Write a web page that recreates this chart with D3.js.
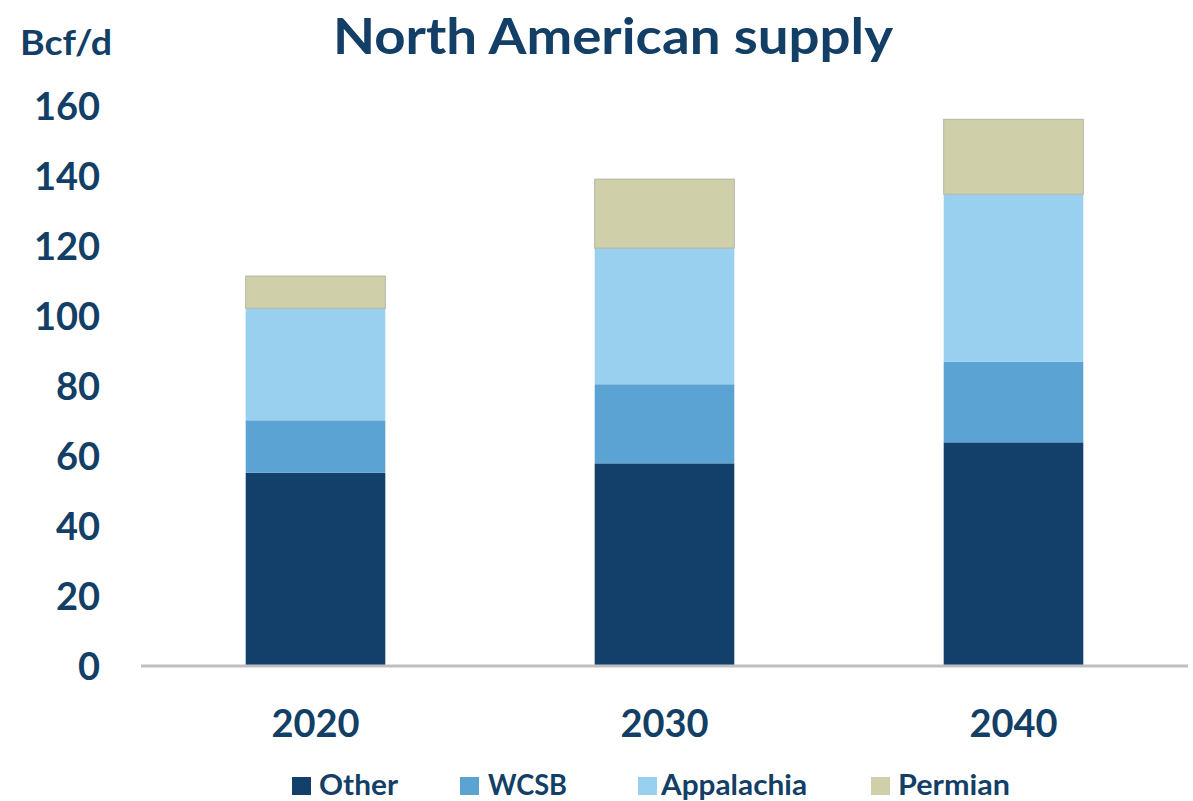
<!DOCTYPE html>
<html>
<head>
<meta charset="utf-8">
<script src="https://cdn.jsdelivr.net/npm/d3@7"></script>
<style>
  html, body { margin: 0; padding: 0; background: #ffffff; }
  svg { display: block; font-family: Lato, "Open Sans", sans-serif; font-weight: 700; }
</style>
</head>
<body>
<svg id="chart" width="1193" height="801"></svg>
<script>
// Supply by region, Bcf/d
const years = ["2020", "2030", "2040"];
const seriesNames = ["Other", "WCSB", "Appalachia", "Permian"];
const other = [55.2, 57.9, 63.9];
const wcsb = [15.0, 22.6, 23.0];
const appalachia = [32.0, 38.9, 47.9];
const permian = [9.2, 19.7, 21.4];
const yTicks = [0, 20, 40, 60, 80, 100, 120, 140, 160];
const colors = ["#12406a", "#5ba3d3", "#99d0f0", "#cfd0aa"];
const textColor = "#133f66";

const rows = years.map((y, i) => ({
  year: y, Other: other[i], WCSB: wcsb[i], Appalachia: appalachia[i], Permian: permian[i]
}));

const svg = d3.select("#chart");

const x = d3.scaleBand().domain(years).range([141, 1188]).paddingInner(0.6).paddingOuter(0.3);
const y = d3.scaleLinear().domain([0, 160]).range([666, 106]);
const color = d3.scaleOrdinal().domain(seriesNames).range(colors);

const stacked = d3.stack().keys(seriesNames)(rows);

// stacked bars
svg.append("g").selectAll("g")
  .data(stacked)
  .join("g")
  .attr("fill", d => color(d.key))
  .selectAll("rect")
  .data(d => d.map(p => ({ key: d.key, p })))
  .join("rect")
  .attr("x", d => x(d.p.data.year))
  .attr("width", x.bandwidth())
  .attr("y", d => y(d.p[1]))
  .attr("height", d => y(d.p[0]) - y(d.p[1]))
  .attr("stroke", d => d.key === "Permian" ? "#b4b4a6" : "none")
  .attr("stroke-width", 1);

// y axis labels
const yAxis = d3.axisLeft(y).tickValues(yTicks).tickSize(0).tickPadding(0);
const gy = svg.append("g").attr("transform", "translate(100,0)").call(yAxis);
gy.select(".domain").remove();
gy.selectAll("text")
  .attr("fill", textColor)
  .style("font-size", "38px")
  .style("font-family", "Lato, sans-serif")
  .style("font-weight", 700)
  .attr("dy", "0.36em");

// x axis baseline and labels
const xAxis = d3.axisBottom(x).tickSize(0).tickPadding(0);
const gx = svg.append("g").attr("transform", `translate(0,${y(0)})`).call(xAxis);
gx.select(".domain").attr("stroke", "#bfbfbf").attr("stroke-width", 3)
  .attr("d", `M${x.range()[0]},0H${x.range()[1]}`);
gx.selectAll("text")
  .attr("fill", textColor)
  .style("font-size", "38px")
  .style("font-family", "Lato, sans-serif")
  .style("font-weight", 700)
  .attr("y", 57)
  .attr("dy", "0.36em");

// title and unit
svg.append("text")
  .attr("x", 333).attr("y", 54)
  .attr("textLength", 560).attr("lengthAdjust", "spacingAndGlyphs")
  .attr("fill", textColor)
  .style("font-size", "50px")
  .text("North American supply");

svg.append("text")
  .attr("x", 20).attr("y", 55)
  .attr("textLength", 92).attr("lengthAdjust", "spacingAndGlyphs")
  .attr("fill", textColor)
  .style("font-size", "34px")
  .text("Bcf/d");

// legend
const legendItems = [
  { name: "Other", sx: 292, tx: 319, tw: 79 },
  { name: "WCSB", sx: 460, tx: 488, tw: 79 },
  { name: "Appalachia", sx: 638, tx: 661, tw: 146 },
  { name: "Permian", sx: 871, tx: 898, tw: 112 }
];
const lg = svg.append("g");
const li = lg.selectAll("g").data(legendItems).join("g");
li.append("rect")
  .attr("x", d => d.sx).attr("y", 777)
  .attr("width", 19).attr("height", 18)
  .attr("fill", d => color(d.name));
li.append("text")
  .attr("x", d => d.tx).attr("y", 795)
  .attr("textLength", d => d.tw).attr("lengthAdjust", "spacingAndGlyphs")
  .attr("fill", textColor)
  .style("font-size", "28px")
  .text(d => d.name);
</script>
</body>
</html>
